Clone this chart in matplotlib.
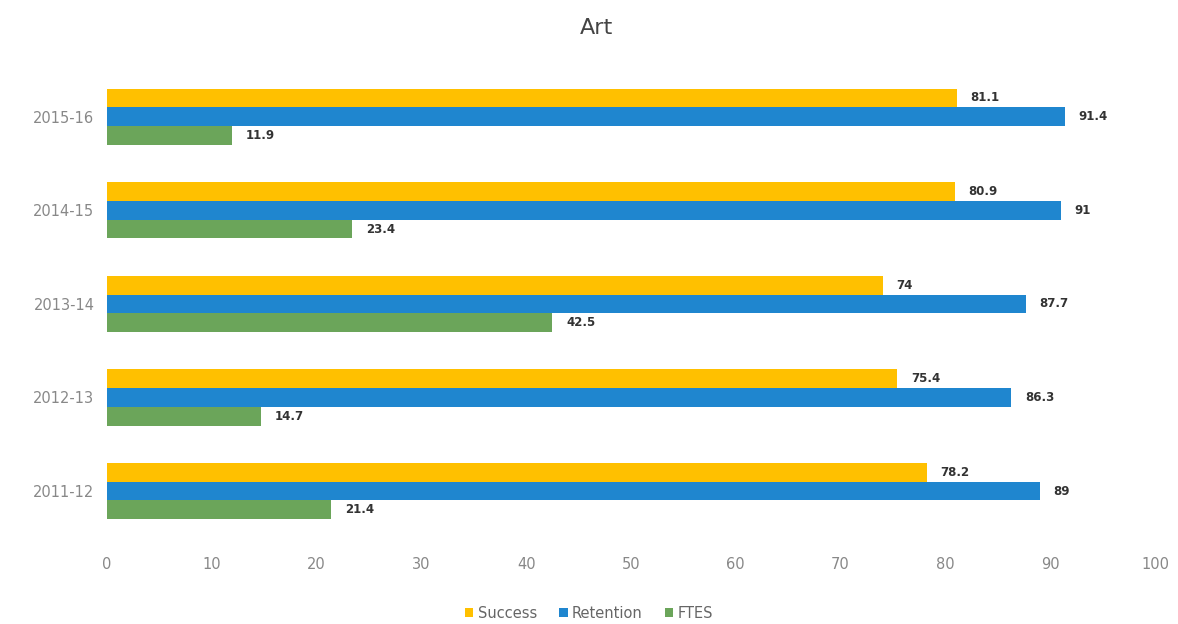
import numpy as np
import matplotlib.pyplot as plt

years = ['2011-12', '2012-13', '2013-14', '2014-15', '2015-16']
success = [78.2, 75.4, 74, 80.9, 81.1]
retention = [89, 86.3, 87.7, 91, 91.4]
ftes = [21.4, 14.7, 42.5, 23.4, 11.9]

series = [('Success', success, '#FFC000'),
          ('Retention', retention, '#1F86CF'),
          ('FTES', ftes, '#6BA55A')]

fig = plt.figure(figsize=(11.78, 6.24), dpi=100)
ax = fig.add_axes([0.0908, 0.138, 0.8897, 0.75])

y = np.arange(len(years))
h = 0.2
offsets = [h, 0, -h]

for (name, vals, color), off in zip(series, offsets):
    bars = ax.barh(y + off, vals, height=h, color=color, label=name)
    for b, v in zip(bars, vals):
        ax.text(b.get_width() + 1.3, b.get_y() + b.get_height() / 2,
                f'{v:g}', va='center', ha='left', fontsize=8.5,
                fontweight='bold', color='#333333')

ax.set_xlim(0, 100)
ax.set_ylim(-0.5, len(years) - 0.5)
ax.set_xticks(np.arange(0, 101, 10))
ax.set_yticks(y)
ax.set_yticklabels(years)
ax.tick_params(axis='both', length=0, colors='#888888', labelsize=10.5)
ax.tick_params(axis='x', pad=14)
ax.tick_params(axis='y', pad=9)
for s in ax.spines.values():
    s.set_visible(False)

fig.text(0.506, 0.955, 'Art', ha='center', va='center', fontsize=16, color='#444444')

fig.legend(loc='center', bbox_to_anchor=(0.5, 0.017), ncol=3, frameon=False,
           fontsize=10.5, handlelength=0.6, handleheight=0.6, handletextpad=0.3,
           columnspacing=1.5, labelcolor='#666666')

fig.savefig('out.png', dpi=100)
